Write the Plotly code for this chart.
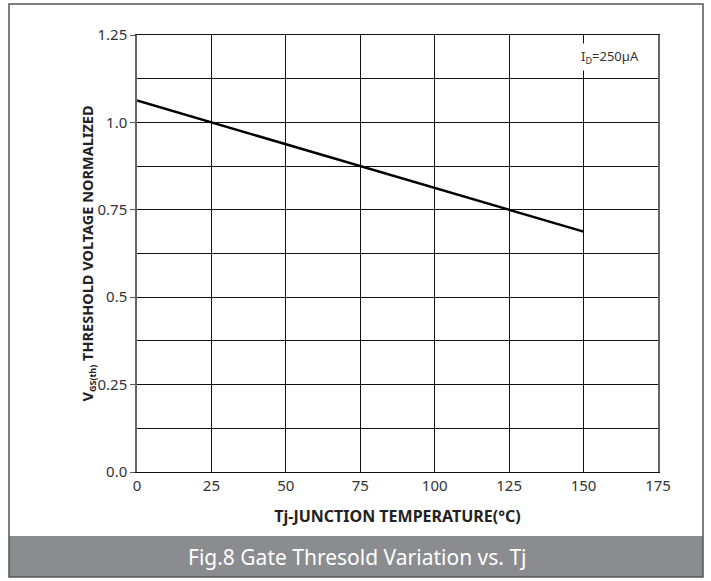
import plotly.graph_objects as go

temps = [0, 25, 50, 75, 100, 125, 150]
vth_norm = [1.0625, 1.0, 0.9375, 0.875, 0.8125, 0.75, 0.6875]

x_ticks = [0, 25, 50, 75, 100, 125, 150, 175]
y_ticks = [0, 0.25, 0.5, 0.75, 1.0, 1.25]
y_tick_text = ["0.0", "0.25", "0.5", "0.75", "1.0", "1.25"]
y_minor = [0.125, 0.375, 0.625, 0.875, 1.125]

FONT = "Noto Sans"

fig = go.Figure()
fig.add_trace(go.Scatter(x=temps, y=vth_norm, mode="lines",
                         line=dict(color="black", width=2.5), showlegend=False,
                         hoverinfo="skip"))

fig.update_layout(
    width=711, height=581,
    margin=dict(l=137, r=53, t=35, b=109),
    paper_bgcolor="white", plot_bgcolor="white",
    font=dict(family=FONT, size=15, color="#333"),
    xaxis=dict(range=[0, 175], tickvals=x_ticks, showgrid=True, gridcolor="#111",
               gridwidth=1, showline=True, linecolor="#111", linewidth=1, mirror=True,
               ticks="", zeroline=False, tickfont=dict(size=15, color="#333"),
               title=dict(text="<b>Tj-JUNCTION TEMPERATURE(°C)</b>",
                          font=dict(size=16, color="#222"), standoff=16)),
    yaxis=dict(range=[0, 1.25], tickvals=y_ticks, ticktext=y_tick_text,
               showgrid=True, gridcolor="#111", gridwidth=1,
               minor=dict(tickvals=y_minor, showgrid=True,
                          gridcolor="#111", gridwidth=1, ticks=""),
               showline=True, linecolor="#666", linewidth=1.5, mirror=True,
               ticks="outside", ticklen=5, tickcolor="#555", zeroline=False,
               tickfont=dict(size=15, color="#333")),
)

pw, ph = 521.0, 437.0
def px(x):
    return (x - 137) / pw
def py(y):
    return (472 - y) / ph

# y-axis title
fig.add_annotation(xref="paper", yref="paper", x=px(87), y=0.5, textangle=-90,
                   text="<b>V<sub><span style='font-size:9px'>GS(th)</span></sub> THRESHOLD VOLTAGE NORMALIZED</b>",
                   showarrow=False, xanchor="center", yanchor="middle",
                   font=dict(size=14.5, color="#222", family=FONT))

# I_D annotation
fig.add_annotation(x=158.9, y=1.187, xref="x", yref="y", showarrow=False,
                   text="I<sub>D</sub>=250µA", bgcolor="white", borderpad=3,
                   font=dict(size=13, color="#333", family=FONT))

# outer frame and caption banner
fig.add_shape(type="rect", xref="paper", yref="paper",
              x0=px(9), x1=px(703), y0=py(536), y1=py(577),
              fillcolor="#8b8c8f", line=dict(width=0), layer="below")
fig.add_shape(type="rect", xref="paper", yref="paper",
              x0=px(9), x1=px(703), y0=py(577), y1=py(4),
              line=dict(color="#555", width=1.5), fillcolor="rgba(0,0,0,0)")
fig.add_annotation(xref="paper", yref="paper", x=px(357), y=py(557),
                   text="Fig.8 Gate Thresold Variation vs. Tj", showarrow=False,
                   font=dict(size=21, color="white", family=FONT),
                   xanchor="center", yanchor="middle")

fig.write_html("out.html", config={"displayModeBar": False},
               post_script="document.body.style.margin='0';document.body.style.overflow='hidden';")
